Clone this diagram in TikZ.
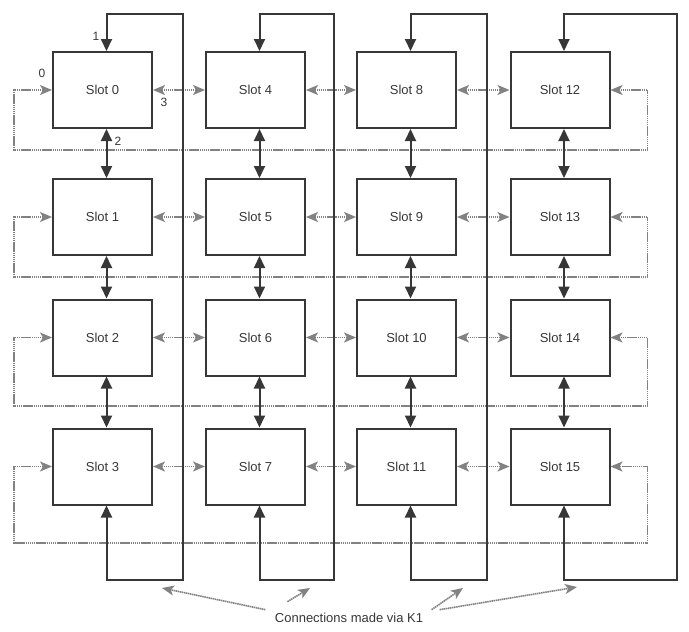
\documentclass[tikz,border=0pt]{standalone}
\usepackage{fontspec}
\setmainfont{Liberation Sans}
\usepackage{tikz}
\usetikzlibrary{arrows.meta}
\definecolor{slotdark}{RGB}{55, 55, 55}
\definecolor{linkgray}{RGB}{130, 130, 130}

\begin{document}
\begin{tikzpicture}[x=1pt, y=-1pt,
    every node/.style={font=\fontsize{13}{15}\selectfont, text=slotdark},
    slot/.style={draw=slotdark, line width=2pt, minimum width=99pt, minimum height=76pt, inner sep=0pt},
    bus/.style={slotdark, line width=2pt, >={Triangle[length=12pt, width=11pt]}},
    link/.style={linkgray, line width=1.6pt, dash pattern=on 1.5pt off 0.6pt, >={Stealth[length=12pt, width=10pt, inset=3pt]}},
    portnum/.style={font=\fontsize{12}{14}\selectfont}]
  \useasboundingbox (0,0) rectangle (689,632);

  % Slots, column by column
  \node[slot] (s0) at (102.5,90) {Slot 0};
  \node[slot] (s1) at (102.5,217) {Slot 1};
  \node[slot] (s2) at (102.5,337.5) {Slot 2};
  \node[slot] (s3) at (102.5,466.5) {Slot 3};
  \node[slot] (s4) at (255.5,90) {Slot 4};
  \node[slot] (s5) at (255.5,217) {Slot 5};
  \node[slot] (s6) at (255.5,337.5) {Slot 6};
  \node[slot] (s7) at (255.5,466.5) {Slot 7};
  \node[slot] (s8) at (406.5,90) {Slot 8};
  \node[slot] (s9) at (406.5,217) {Slot 9};
  \node[slot] (s10) at (406.5,337.5) {Slot 10};
  \node[slot] (s11) at (406.5,466.5) {Slot 11};
  \node[slot] (s12) at (560,90) {Slot 12};
  \node[slot] (s13) at (560,217) {Slot 13};
  \node[slot] (s14) at (560,337.5) {Slot 14};
  \node[slot] (s15) at (560,466.5) {Slot 15};

  % Port numbers on slot 0
  \node[portnum] (p0) at (42,73) {0};
  \node[portnum] (p1) at (96,36) {1};
  \node[portnum] (p2) at (118,141) {2};
  \node[portnum] (p3) at (164,102) {3};

  % Row links (dotted) between neighbours
  \draw[link, <->] (s0.east) -- (s4.west);
  \draw[link, <->] (s4.east) -- (s8.west);
  \draw[link, <->] (s8.east) -- (s12.west);
  \draw[link, <->] (s1.east) -- (s5.west);
  \draw[link, <->] (s5.east) -- (s9.west);
  \draw[link, <->] (s9.east) -- (s13.west);
  \draw[link, <->] (s2.east) -- (s6.west);
  \draw[link, <->] (s6.east) -- (s10.west);
  \draw[link, <->] (s10.east) -- (s14.west);
  \draw[link, <->] (s3.east) -- (s7.west);
  \draw[link, <->] (s7.east) -- (s11.west);
  \draw[link, <->] (s11.east) -- (s15.west);

  % Row wrap-around links
  \draw[link, <->] (s0.west) -| (14,150) -| ([xshift=37pt]s12.east) -- (s12.east);
  \draw[link, <->] (s1.west) -| (14,277) -| ([xshift=37pt]s13.east) -- (s13.east);
  \draw[link, <->] (s2.west) -| (14,406) -| ([xshift=37pt]s14.east) -- (s14.east);
  \draw[link, <->] (s3.west) -| (14,543) -| ([xshift=37pt]s15.east) -- (s15.east);

  % Column links (solid) between neighbours
  \draw[bus, <->] ([xshift=4pt]s0.south) -- ([xshift=4pt]s1.north);
  \draw[bus, <->] ([xshift=4pt]s1.south) -- ([xshift=4pt]s2.north);
  \draw[bus, <->] ([xshift=4pt]s2.south) -- ([xshift=4pt]s3.north);
  \draw[bus, <->] ([xshift=4pt]s4.south) -- ([xshift=4pt]s5.north);
  \draw[bus, <->] ([xshift=4pt]s5.south) -- ([xshift=4pt]s6.north);
  \draw[bus, <->] ([xshift=4pt]s6.south) -- ([xshift=4pt]s7.north);
  \draw[bus, <->] ([xshift=4pt]s8.south) -- ([xshift=4pt]s9.north);
  \draw[bus, <->] ([xshift=4pt]s9.south) -- ([xshift=4pt]s10.north);
  \draw[bus, <->] ([xshift=4pt]s10.south) -- ([xshift=4pt]s11.north);
  \draw[bus, <->] ([xshift=4pt]s12.south) -- ([xshift=4pt]s13.north);
  \draw[bus, <->] ([xshift=4pt]s13.south) -- ([xshift=4pt]s14.north);
  \draw[bus, <->] ([xshift=4pt]s14.south) -- ([xshift=4pt]s15.north);

  % Column wrap-around loops (via K1)
  \draw[bus, <->] ([xshift=4pt]s0.north) |- (183,14) |- (106.5,580) -- ([xshift=4pt]s3.south);
  \draw[bus, <->] ([xshift=4pt]s4.north) |- (334,14) |- (259.5,580) -- ([xshift=4pt]s7.south);
  \draw[bus, <->] ([xshift=4pt]s8.north) |- (487,14) |- (410.5,580) -- ([xshift=4pt]s11.south);
  \draw[bus, <->] ([xshift=4pt]s12.north) |- (677,14) |- (564,580) -- ([xshift=4pt]s15.south);

  % Caption and its pointers
  \node (cap) at (349,618) {Connections made via K1};
  \coordinate (k0) at (162,588);
  \coordinate (k1) at (310,588);
  \coordinate (k2) at (463,588);
  \coordinate (k3) at (577,587);
  \draw[link, ->] ([xshift=-6pt]cap.north west) -- (k0);
  \draw[link, ->] ([shift={(16,-8)}]cap.north west) -- (k1);
  \draw[link, ->] ([xshift=5pt]cap.north east) -- (k2);
  \draw[link, ->] ([xshift=13pt]cap.north east) -- (k3);
\end{tikzpicture}
\end{document}
